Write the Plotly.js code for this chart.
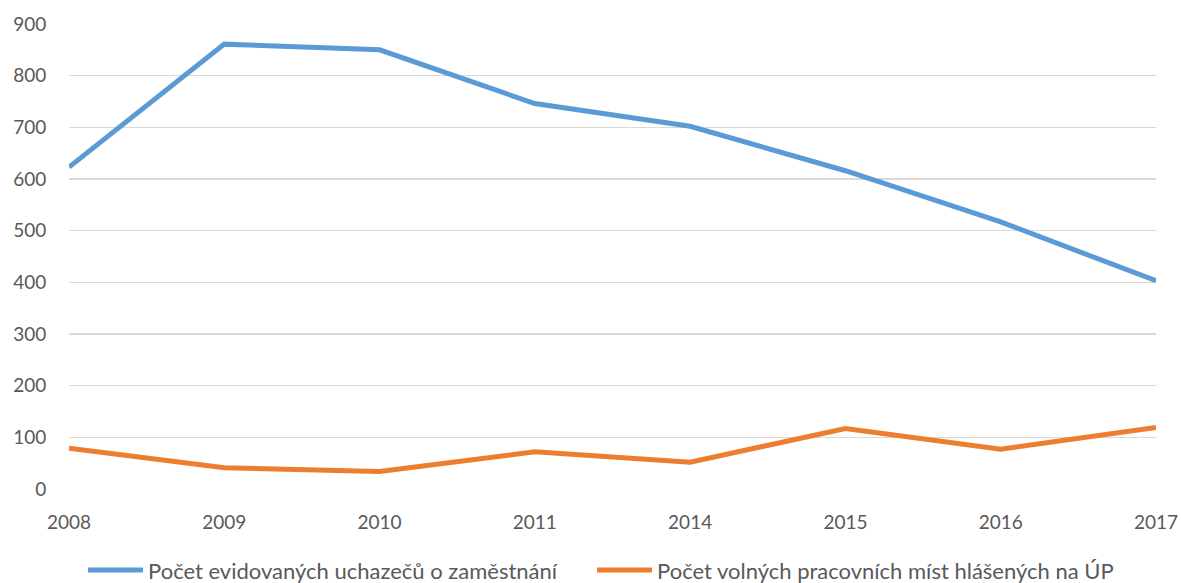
<!DOCTYPE html>
<html>
<head>
<meta charset="utf-8">
<script src="https://cdn.plot.ly/plotly-3.0.1.min.js"></script>
<style>html,body{margin:0;padding:0;background:#fff;}#chart{width:1181px;height:583px;}</style>
</head>
<body>
<div id="chart"></div>
<script>
const years = ["2008", "2009", "2010", "2011", "2014", "2015", "2016", "2017"];
const uchazeci = [623, 861, 850, 746, 702, 616, 517, 403];
const volnaMista = [79, 41, 34, 72, 52, 117, 77, 119];
const seriesNames = ["Počet evidovaných uchazečů o zaměstnání", "Počet volných pracovních míst hlášených na ÚP"];
const yTicks = [0, 100, 200, 300, 400, 500, 600, 700, 800, 900];

const traces = [
  {x: years, y: uchazeci, name: seriesNames[0], type: 'scatter', mode: 'lines',
   line: {color: '#5b9bd5', width: 5}, legend: 'legend'},
  {x: years, y: volnaMista, name: seriesNames[1], type: 'scatter', mode: 'lines',
   line: {color: '#ed7d31', width: 5}, legend: 'legend2'}
];

const legendBase = {orientation: 'h', xref: 'container', yref: 'container', xanchor: 'left',
  y: 0.022, yanchor: 'middle', font: {size: 22, color: '#595959'}, itemwidth: 55,
  bgcolor: 'rgba(0,0,0,0)'};

const layout = {
  width: 1181, height: 583,
  margin: {l: 69, r: 25, t: 24, b: 94, pad: 0, autoexpand: false},
  paper_bgcolor: '#ffffff', plot_bgcolor: '#ffffff',
  font: {family: 'Lato, "Open Sans", sans-serif', size: 19, color: '#595959'},
  showlegend: true,
  legend: Object.assign({}, legendBase, {x: 0.0703}),
  legend2: Object.assign({}, legendBase, {x: 0.5013}),
  xaxis: {type: 'category', range: [0, 7], showgrid: false, zeroline: false,
          showline: false, ticks: 'outside', ticklen: 16, tickcolor: 'rgba(0,0,0,0)',
          tickfont: {size: 19, color: '#595959'}, automargin: false},
  yaxis: {range: [0, 900], tickvals: yTicks, showgrid: true, gridcolor: '#d9d9d9', gridwidth: 1.3,
          zeroline: false, showline: false, ticks: 'outside', ticklen: 18, tickcolor: 'rgba(0,0,0,0)',
          tickfont: {size: 19, color: '#595959'}, automargin: false}
};

Plotly.newPlot('chart', traces, layout, {displayModeBar: false, staticPlot: true});
</script>
</body>
</html>
